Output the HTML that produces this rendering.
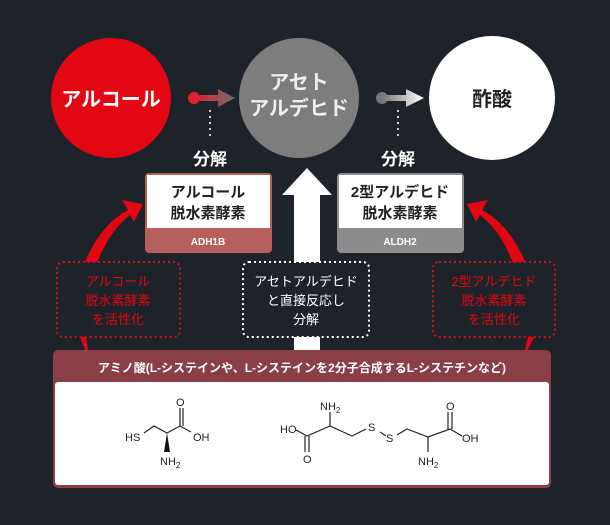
<!DOCTYPE html>
<html><head><meta charset="utf-8"><style>
body{margin:0;background:#1e2229;}
svg text{font-family:"Liberation Sans","Noto Sans CJK JP",sans-serif;}
</style></head><body>
<svg width="610" height="520" viewBox="0 0 610 520" xmlns="http://www.w3.org/2000/svg">
<defs>
<linearGradient id="g1" x1="0" x2="1"><stop offset="0" stop-color="#e0202c"/><stop offset="1" stop-color="#6e6e6e"/></linearGradient>
<linearGradient id="g2" x1="0" x2="1"><stop offset="0" stop-color="#777"/><stop offset="1" stop-color="#fff"/></linearGradient>
</defs>
<rect width="610" height="520" fill="#1e2229"/>
<ellipse cx="111" cy="98" rx="60" ry="60" fill="#e30613"/>
<text x="111" y="106" font-size="20" font-weight="bold" fill="#fff" text-anchor="middle">アルコール</text>
<ellipse cx="299" cy="98" rx="60" ry="60" fill="#7d7d7d"/>
<text x="299" y="89" font-size="20" font-weight="bold" fill="#eee" text-anchor="middle">アセト</text>
<text x="299" y="115" font-size="20" font-weight="bold" fill="#eee" text-anchor="middle">アルデヒド</text>
<ellipse cx="492" cy="98" rx="63" ry="62" fill="#fff"/>
<text x="492" y="106" font-size="20" font-weight="bold" fill="#222" text-anchor="middle">酢酸</text>
<circle cx="194" cy="98" r="6" fill="#e0202c"/>
<path d="M194 95 H218 V89 L235 98 L218 107 V101 H194Z" fill="url(#g1)"/>
<line x1="210" y1="110" x2="210" y2="138" stroke="#ccc" stroke-width="2" stroke-dasharray="2 4"/>
<text x="210" y="165" font-size="17" font-weight="bold" fill="#fff" text-anchor="middle">分解</text>
<circle cx="382" cy="98" r="6" fill="#777"/>
<path d="M382 95 H406 V89 L424 98 L406 107 V101 H382Z" fill="url(#g2)"/>
<line x1="398" y1="110" x2="398" y2="138" stroke="#ccc" stroke-width="2" stroke-dasharray="2 4"/>
<text x="398" y="165" font-size="17" font-weight="bold" fill="#fff" text-anchor="middle">分解</text>
<rect x="145" y="173" width="127" height="80" rx="4" fill="#b5605c"/>
<rect x="147" y="175" width="123" height="53" fill="#fff"/>
<text x="208" y="197" font-size="15" font-weight="bold" fill="#222" text-anchor="middle">アルコール</text>
<text x="208" y="218" font-size="15" font-weight="bold" fill="#222" text-anchor="middle">脱水素酵素</text>
<text x="208" y="245" font-size="10" font-weight="bold" fill="#fff" text-anchor="middle">ADH1B</text>
<rect x="337" y="173" width="127" height="80" rx="4" fill="#8c8c8c"/>
<rect x="339" y="175" width="123" height="53" fill="#fff"/>
<text x="400" y="197" font-size="15" font-weight="bold" fill="#222" text-anchor="middle">2型アルデヒド</text>
<text x="400" y="218" font-size="15" font-weight="bold" fill="#222" text-anchor="middle">脱水素酵素</text>
<text x="400" y="245" font-size="10" font-weight="bold" fill="#fff" text-anchor="middle">ALDH2</text>
<path d="M294 355 V195 H282 L307 168 L332 195 H320 V355Z" fill="#fff"/>
<path d="M84 264 Q100 225 128 210 L122 200 L143 204 L134 222 L130 215 Q108 232 96 266Z" fill="#e30613"/>
<path d="M526 264 Q510 225 482 210 L488 200 L467 204 L476 222 L480 215 Q502 232 514 266Z" fill="#e30613"/>
<rect x="57" y="262" width="123" height="75" rx="6" fill="#1e2229" stroke="#d0101c" stroke-width="2" stroke-dasharray="2 3"/>
<text x="118" y="286" font-size="13" fill="#e30613" text-anchor="middle">アルコール</text>
<text x="118" y="305" font-size="13" fill="#e30613" text-anchor="middle">脱水素酵素</text>
<text x="118" y="324" font-size="13" fill="#e30613" text-anchor="middle">を活性化</text>
<path d="M80 337 L90 362 L86 337Z" fill="#e30613"/>
<rect x="243" y="262" width="126" height="75" rx="6" fill="#1e2229" stroke="#fff" stroke-width="2" stroke-dasharray="2 3"/>
<text x="306" y="286" font-size="13" fill="#fff" text-anchor="middle">アセトアルデヒド</text>
<text x="306" y="305" font-size="13" fill="#fff" text-anchor="middle">と直接反応し</text>
<text x="306" y="324" font-size="13" fill="#fff" text-anchor="middle">分解</text>
<rect x="433" y="262" width="122" height="75" rx="6" fill="#1e2229" stroke="#d0101c" stroke-width="2" stroke-dasharray="2 3"/>
<text x="494" y="286" font-size="13" fill="#e30613" text-anchor="middle">2型アルデヒド</text>
<text x="494" y="305" font-size="13" fill="#e30613" text-anchor="middle">脱水素酵素</text>
<text x="494" y="324" font-size="13" fill="#e30613" text-anchor="middle">を活性化</text>
<path d="M528 337 L522 362 L534 337Z" fill="#e30613"/>
<rect x="53" y="350" width="498" height="138" rx="5" fill="#8a3f47"/>
<rect x="55" y="382" width="494" height="103" rx="3" fill="#fff"/>
<text x="302" y="372" font-size="12" font-weight="bold" fill="#fff" text-anchor="middle">アミノ酸(L-システインや、L-システインを2分子合成するL-システチンなど)</text>
<g stroke="#222" stroke-width="1.2" fill="none">
<path d="M144 433 L154 426 L167 433 L180 426 L191 432"/>
<path d="M180 426 V408 M183 426 V408"/>
<path d="M296 430 L307 436 L330 426 L352 436 L366 429"/>
<path d="M305 436 V452 M309 436 V452 M330 426 V412"/>
<path d="M380 432 L386 436"/>
<path d="M397 435 L407 429 L428 437 L450 429 L462 436"/>
<path d="M428 437 V452 M448 429 V412 M452 429 V412"/>
</g>
<path d="M167 433 L164 452 L170 452Z" fill="#111"/>
<g font-size="11" fill="#222" font-family="Liberation Sans,sans-serif">
<text x="125" y="441">HS</text>
<text x="176" y="406">O</text>
<text x="193" y="441">OH</text>
<text x="160" y="465">NH<tspan font-size="8" dy="3">2</tspan></text>
<text x="320" y="410">NH<tspan font-size="8" dy="3">2</tspan></text>
<text x="280" y="433">HO</text>
<text x="303" y="463">O</text>
<text x="368" y="431">S</text>
<text x="386" y="442">S</text>
<text x="446" y="410">O</text>
<text x="462" y="442">OH</text>
<text x="418" y="465">NH<tspan font-size="8" dy="3">2</tspan></text>
</g>
</svg>
</body></html>
